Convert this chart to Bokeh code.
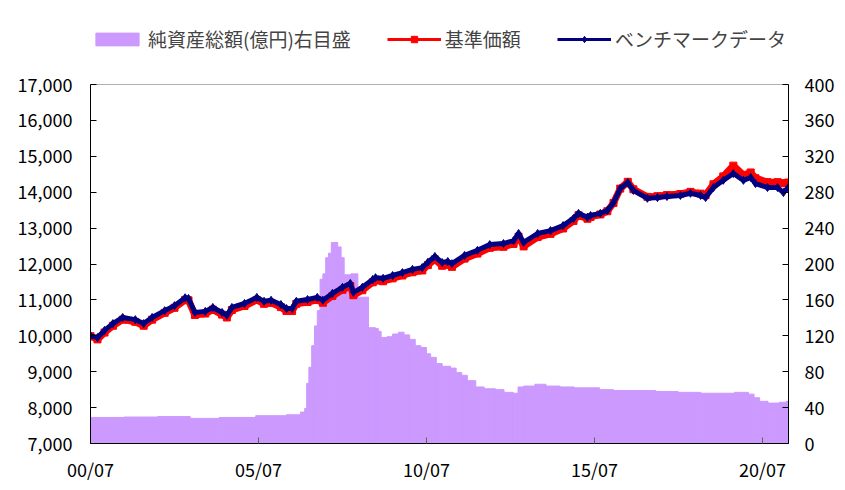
from bokeh.plotting import figure
from bokeh.layouts import column
from bokeh.models import (Range1d, LinearAxis, FixedTicker, NumeralTickFormatter,
                          Legend, LegendItem)
from bokeh.embed import file_html
from bokeh.resources import INLINE

# ---- data (months counted from 2000/07) ----
bm_months = [0, 2.5, 5, 8, 11.5, 16, 19, 22, 26.5, 30, 33.8, 35, 37.3, 41, 43.7, 47, 48.7,
             50.5, 55, 59.4, 62, 64.5, 68, 70, 72, 73.5, 77.5, 81, 83, 86.4, 90, 92.8, 93.9,
             97.1, 100.8, 101.8, 104.5, 107.9, 111.4, 115, 118.5, 120.5, 123, 125.6, 127.6,
             129.1, 133.6, 138.2, 142.6, 147.5, 151.1, 152.9, 154.7, 159.7, 164.3, 168.8,
             172.5, 174.3, 177.5, 178.6, 182.1, 184.6, 186.8, 189.2, 191.9, 193.9, 198.9,
             202.5, 205.9, 210.7, 214.3, 217.9, 219.7, 222.5, 226, 229.6, 233.2, 235.8,
             237.5, 241.8, 245.4, 247.5, 249.2]
benchmark = [10000, 9950, 10150, 10340, 10510, 10450, 10340, 10510, 10700, 10840, 11060, 11040,
             10650, 10680, 10790, 10650, 10570, 10790, 10900, 11070, 10960, 10990, 10870, 10760,
             10760, 10960, 11010, 11070, 10990, 11180, 11350, 11460, 11210, 11350, 11570, 11620,
             11600, 11680, 11760, 11850, 11900, 12050, 12210, 12040, 12070, 12010, 12240, 12380,
             12540, 12570, 12650, 12850, 12600, 12850, 12930, 13070, 13270, 13410, 13300, 13350,
             13410, 13490, 13710, 14100, 14270, 14050, 13830, 13850, 13880, 13910, 13970, 13910,
             13850, 14130, 14330, 14520, 14330, 14410, 14240, 14130, 14130, 13990, 14130]
nav = [9990, 9900, 10090, 10280, 10450, 10390, 10280, 10450, 10640, 10780, 11000, 10990,
       10580, 10620, 10730, 10590, 10510, 10720, 10830, 11000, 10890, 10920, 10800, 10690,
       10690, 10890, 10940, 11000, 10920, 11110, 11280, 11390, 11130, 11270, 11490, 11540,
       11520, 11600, 11680, 11770, 11820, 11970, 12130, 11950, 11980, 11920, 12150, 12290,
       12450, 12480, 12560, 12760, 12490, 12750, 12840, 12990, 13200, 13360, 13260, 13310,
       13380, 13470, 13700, 14100, 14290, 14080, 13870, 13890, 13920, 13950, 14010, 13960,
       13920, 14220, 14440, 14740, 14480, 14550, 14390, 14280, 14280, 14250, 14270]

aum_start = [0, 12, 24, 35.6, 46, 59, 70, 75, 76.5, 77.2, 78, 79, 80, 81, 82, 83, 84, 85, 86,
             88.3, 89.5, 90.6, 93, 95.5, 99.3, 101.8, 102.8, 103.8, 105.9, 107.9, 110, 112,
             114, 116, 118, 120, 121.5, 123.5, 125.6, 128.6, 130.6, 132.6, 134.6, 137.6,
             140.6, 144.6, 147.7, 151, 152.7, 154.7, 158.7, 162.7, 167.7, 172.8, 177.8, 181.8,
             186.8, 193.9, 201.9, 209.9, 218, 224, 230, 235, 237, 239, 242, 246, 248.5]
aum = [29, 29.5, 30, 28, 29, 31, 32, 35, 39, 67, 85, 109, 131, 148, 183, 189, 207, 212, 224,
       219, 207, 188, 189, 163, 129, 128, 125, 118, 119, 122, 124, 121, 116, 109, 107, 100,
       96, 89, 86, 84, 79, 76, 70, 63, 61, 60, 57, 56, 63, 64, 66, 64, 63, 62, 62, 60, 59,
       59, 58, 57, 56, 56, 57, 55, 51, 47, 45, 46, 47]
X_END = 249.3

x_ticks = [0, 60, 120, 180, 240]
x_tick_labels = ["00/07", "05/07", "10/07", "15/07", "20/07"]
left_ticks = [7000, 8000, 9000, 10000, 11000, 12000, 13000, 14000, 15000, 16000, 17000]
right_ticks = [0, 40, 80, 120, 160, 200, 240, 280, 320, 360, 400]
legend_labels = ["純資産総額(億円)右目盛", "基準価額", "ベンチマークデータ"]

FONT = "Noto Sans CJK JP"
PURPLE = "#CC99FF"
RED = "#FF0000"
NAVY = "#000080"
W = 843
LEG_H = 60

# ---------- legend strip (own small figure; proxies sit outside its view) ----------
lf = figure(width=W, height=LEG_H, output_backend="svg", toolbar_location=None,
            x_range=Range1d(0, 1), y_range=Range1d(0, 1),
            x_axis_location=None, y_axis_location=None,
            min_border_left=0, min_border_right=0, min_border_top=0, min_border_bottom=0,
            background_fill_color="white", border_fill_color="white")
lf.grid.visible = False
lf.outline_line_color = None
l_area = lf.quad(left=[5], right=[6], bottom=[5], top=[6], fill_color=PURPLE, line_color=PURPLE)
lr_line = lf.line([5, 6], [5, 6], line_color=RED, line_width=3)
lr_pt = lf.scatter([5], [5], marker="square", size=7, fill_color=RED, line_color=RED)
ln_line = lf.line([5, 6], [5, 6], line_color=NAVY, line_width=3)
ln_pt = lf.scatter([5], [5], marker="diamond", size=9, fill_color=NAVY, line_color=NAVY)
legend = Legend(items=[
    LegendItem(label=legend_labels[0], renderers=[l_area]),
    LegendItem(label=legend_labels[1], renderers=[lr_line, lr_pt]),
    LegendItem(label=legend_labels[2], renderers=[ln_line, ln_pt]),
], orientation="horizontal", location=(0, LEG_H - 52), glyph_width=54, glyph_height=16,
    label_standoff=4, spacing=36, padding=0, margin=0,
    border_line_color=None, background_fill_alpha=0,
    label_text_font=FONT, label_text_font_size="19px", label_height=20)
lf.add_layout(legend)

# ---------- main chart ----------
p = figure(width=W, height=488 - LEG_H, output_backend="svg", toolbar_location=None,
           x_range=Range1d(0, X_END), y_range=Range1d(7000, 17000),
           min_border_left=90, min_border_right=W - 788, min_border_top=84 - LEG_H,
           min_border_bottom=45,
           background_fill_color="white", border_fill_color="white")
p.extra_y_ranges = {"aum": Range1d(0, 400)}
p.grid.visible = False
p.outline_line_color = "#b0b0b0"

aum_end = aum_start[1:] + [X_END]
p.quad(left=aum_start, right=aum_end, bottom=0, top=aum, y_range_name="aum",
       fill_color=PURPLE, line_color=PURPLE, line_width=1)

p.line(bm_months, nav, line_color=RED, line_width=7)
p.scatter(bm_months, nav, marker="square", size=7, fill_color=RED, line_color=RED)
p.line(bm_months, benchmark, line_color=NAVY, line_width=5)
p.scatter(bm_months, benchmark, marker="diamond", size=8, fill_color=NAVY, line_color=NAVY)

xa = p.xaxis[0]
xa.ticker = FixedTicker(ticks=x_ticks)
xa.major_label_overrides = dict(zip(x_ticks, x_tick_labels))
ya = p.yaxis[0]
ya.ticker = FixedTicker(ticks=left_ticks)
ya.formatter = NumeralTickFormatter(format="0,0")
ra = LinearAxis(y_range_name="aum", ticker=FixedTicker(ticks=right_ticks))
p.add_layout(ra, "right")

for ax in (xa, ya, ra):
    ax.axis_line_color = "black"
    ax.axis_line_width = 1
    ax.major_tick_in = 6
    ax.major_tick_out = 0
    ax.major_tick_line_color = "black"
    ax.minor_tick_line_color = None
    ax.major_label_text_font = FONT
    ax.major_label_text_font_size = "18px"
    ax.major_label_text_color = "black"
xa.major_tick_line_color = "#606060"
xa.major_label_standoff = 12
ya.major_label_standoff = 18
ra.major_label_standoff = 16

layout = column(lf, p, spacing=0)
open("out.html", "w").write(file_html(layout, INLINE))
